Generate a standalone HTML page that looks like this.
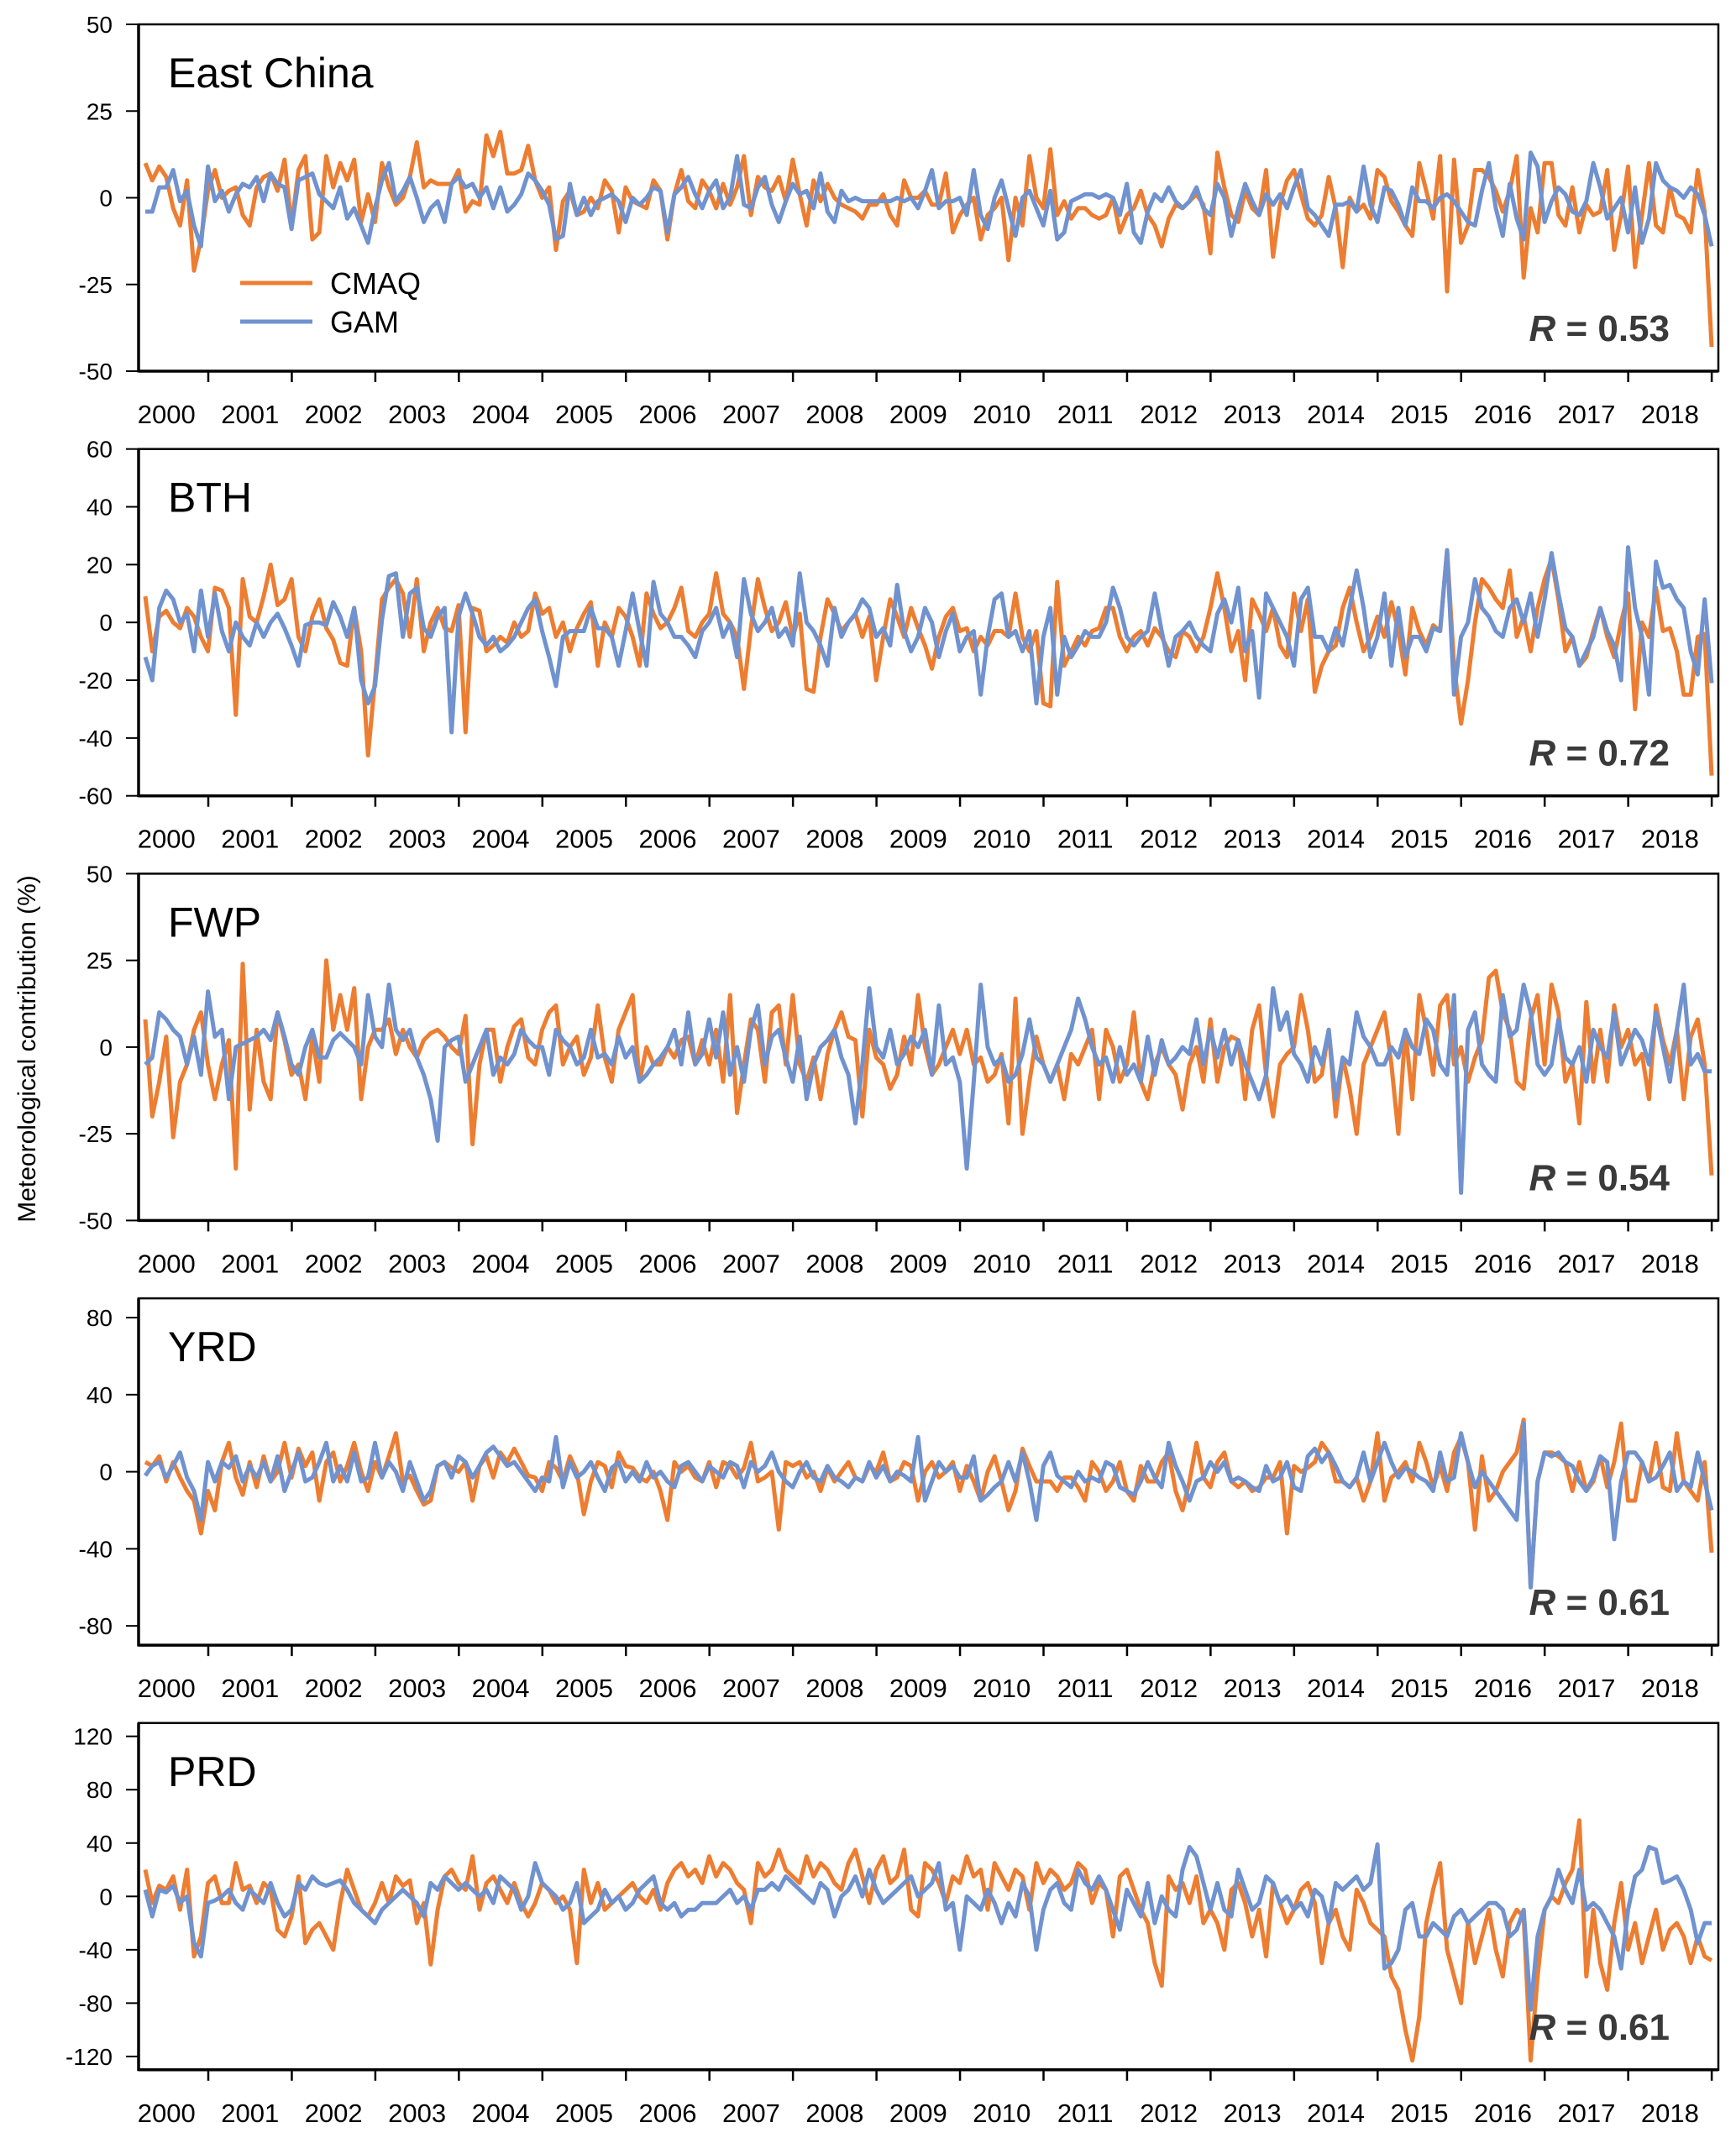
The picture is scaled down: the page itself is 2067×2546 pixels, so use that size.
<!DOCTYPE html>
<html><head><meta charset="utf-8"><style>
html,body{margin:0;padding:0;background:#fff;}
svg{display:block;font-family:"Liberation Sans",Arial,sans-serif;}
</style></head>
<body>
<svg id="chart" width="2067" height="2546" viewBox="0 0 2067 2546" xmlns="http://www.w3.org/2000/svg">
<text x="0" y="0" transform="translate(42,1249) rotate(-90)" text-anchor="middle" font-size="30" fill="#000">Meteorological contribution (%)</text>
</svg>
<script>
const years = ["2000","2001","2002","2003","2004","2005","2006","2007","2008","2009","2010","2011","2012","2013","2014","2015","2016","2017","2018"];
const panelNames = ["East China","BTH","FWP","YRD","PRD"];
const rValues = ["0.53","0.72","0.54","0.61","0.61"];
const yTicks0 = [50,25,0,-25,-50];
const yTicks1 = [60,40,20,0,-20,-40,-60];
const yTicks2 = [50,25,0,-25,-50];
const yTicks3 = [80,40,0,-40,-80];
const yTicks4 = [120,80,40,0,-40,-80,-120];
const yRanges = [[-50,50],[-60,60],[-50,50],[-90,90],[-130,130]];

const ecCMAQ = [10,5,9,6,-3,-8,5,-21,-12,2,
8,0,2,3,-5,-8,3,6,7,2,11,-8,
8,12,-12,-10,12,3,10,5,11,-7,1,-7,
10,3,-2,0,6,16,3,5,4,4,4,8,
-4,-1,-2,18,12,19,7,7,8,15,5,0,
3,-15,-1,2,-5,-4,0,-3,5,2,-10,3,
-1,-2,-3,5,2,-12,1,8,-1,-3,5,2,
-3,4,-2,3,12,-5,6,3,2,6,-1,11,
1,-8,5,-1,4,0,-2,-3,-4,-6,-2,-2,
1,-5,-8,5,0,0,2,-2,-2,7,-10,-5,
-2,0,-12,-5,-3,0,-18,0,-8,12,0,-3,
14,-5,-1,-6,-3,-3,-5,-6,-5,0,-10,-5,
-3,2,-5,-8,-14,-6,-2,-3,-1,1,-2,-16,
13,3,-5,-7,2,-3,-5,8,-17,-2,5,8,
1,-6,-8,-5,6,-3,-20,0,-4,-2,-6,8,
6,-1,-4,-8,-11,10,2,-6,12,-27,11,-13,
-8,8,8,6,2,-4,2,12,-23,-3,-10,10,
10,-5,-8,3,-10,-2,-5,-4,8,-15,-5,9,
-20,-5,10,-8,-10,3,-5,-6,-10,8,-4,-43];
const ecGAM = [-4,-4,3,3,8,-1,2,-8,-14,9,
-1,2,-4,1,4,3,6,-1,7,4,3,-9,
5,6,7,1,-1,-3,3,-6,-3,-8,-13,-3,
5,10,-1,2,6,0,-7,-3,-1,-7,4,6,
3,4,0,3,-3,3,-4,-2,1,7,5,2,
-2,-12,-11,4,-5,0,-5,-1,0,1,-1,-7,
0,-2,0,3,2,-10,1,3,6,1,-3,2,
5,-3,0,12,-2,-3,3,6,-2,-7,-1,4,
1,2,-3,7,-4,-7,2,-1,0,-1,-1,-1,
-1,-1,0,-1,0,-3,2,8,-3,-1,-1,0,
-5,8,-5,-9,0,5,-3,-11,0,2,-3,-8,
2,-12,-10,-1,0,1,1,0,1,0,-5,4,
-10,-13,-4,1,-1,3,-1,-3,-1,3,-3,-5,
4,0,-11,-3,4,-1,-5,1,-2,1,-3,3,
8,-3,-5,-8,-11,-2,-2,-1,-4,9,-2,-7,
3,2,-2,-8,3,-1,-1,-3,0,1,-1,-4,
-7,-8,2,10,-3,-11,4,-6,-12,13,9,-7,
-1,3,1,-4,-5,-1,10,3,-6,-3,0,-10,
3,-13,-6,10,5,3,2,0,3,1,-5,-14];
const bthCMAQ = [9,-10,2,4,0,-2,5,2,-5,-10,
12,11,5,-32,15,2,0,9,20,6,8,15,
-5,-10,2,8,-2,-6,-14,-15,5,-10,-46,-20,
8,12,15,10,-5,15,-10,0,5,-2,-3,6,
-38,5,4,-10,-8,-5,-7,0,-5,-3,10,3,
5,-5,0,-10,-2,3,7,-15,0,-5,5,2,
-5,-15,10,3,-2,0,5,12,-3,-5,0,3,
17,3,0,-5,-23,-2,15,5,-3,0,7,-5,
3,-23,-24,-5,8,3,-3,0,3,-5,2,-20,
-5,8,2,-5,5,-2,-8,-16,-5,2,5,-3,
-2,-10,-5,-8,-3,-3,-5,10,-5,-10,-3,-28,
-29,14,-15,-10,-5,-8,-3,-2,5,5,-5,-10,
-5,-3,-8,-2,-5,-10,-12,-3,-5,-10,-5,5,
17,5,-10,-3,-20,8,3,-3,5,-8,-12,10,
-3,8,-24,-15,-10,-8,5,12,0,-10,-5,2,
-5,7,-3,-18,5,-3,-8,-1,-3,25,-15,-35,
-20,0,15,12,8,5,18,-5,2,-10,5,15,
22,8,-10,-5,-15,-12,-3,5,-5,-12,0,10,
-30,0,-5,12,-3,-2,-10,-25,-25,-5,-4,-53];
const bthGAM = [-12,-20,5,11,8,0,3,-10,11,-5,
10,-3,-10,0,-5,-8,0,-5,0,3,-2,-8,
-15,-1,0,0,-1,7,2,-5,5,-20,-28,-22,
1,16,17,-5,10,12,-2,-5,2,5,-38,2,
10,3,-5,-8,-5,-10,-8,-5,0,5,8,-3,
-12,-22,-5,-3,-3,-3,5,-2,-2,-5,-15,-3,
10,-3,-15,14,3,0,-5,-5,-8,-12,-3,0,
5,-5,0,-12,15,3,-3,0,5,-5,-2,-8,
17,0,-3,-8,-15,5,-5,0,3,8,5,-5,
-2,-8,13,-3,-10,-5,5,0,-12,-3,3,-10,
-5,-3,-25,-5,8,10,-5,-3,-10,-3,-28,-5,
5,-25,-5,-12,-8,-3,-5,-5,0,12,5,-5,
-8,-5,-3,10,-3,-15,-5,-3,0,-5,-8,-10,
3,8,0,12,-10,-3,-26,10,5,0,-5,-15,
8,12,-5,-5,-10,-2,-8,5,18,5,-12,-5,
10,-15,5,-12,-5,-5,-10,-2,-3,25,-25,-5,
0,15,5,2,-3,-5,5,8,0,10,-5,8,
24,10,-2,-5,-15,-10,-5,5,-3,-8,-20,26,
5,-5,-25,21,12,13,8,5,-10,-18,8,-21];
const fwpCMAQ = [8,-20,-10,3,-26,-10,-5,5,10,-5,
-15,-5,2,-35,24,-18,5,-10,-15,10,2,-8,
-5,-15,3,-10,25,5,15,5,17,-15,0,5,
5,8,-2,5,0,-3,2,4,5,3,0,-2,
9,-28,-5,5,5,-10,0,6,8,-3,-5,5,
10,12,-5,0,3,-8,-3,12,-3,-10,5,10,
15,-10,0,-5,-5,0,-3,2,3,-5,2,-5,
5,-10,15,-19,-5,8,5,-10,10,12,-5,15,
-5,-10,-3,-15,-2,5,10,3,2,-20,5,-3,
-5,-12,-8,3,-5,15,0,-8,-5,0,5,-2,
5,-5,-3,-10,-8,-2,-22,14,-25,-10,3,-5,
-10,-5,-15,-2,-5,0,5,-15,5,0,-10,-5,
10,-10,-15,-5,0,-5,-8,-18,-5,0,-10,8,
-10,0,3,2,-15,5,12,-8,-20,-5,-2,0,
15,5,-10,-8,5,-20,-3,-12,-25,-5,0,5,
10,-5,-25,5,-15,15,5,-8,12,15,-5,0,
-10,-3,2,20,22,10,5,-10,-12,8,15,-5,
18,10,-10,-5,-22,13,-10,5,-10,12,0,5,
-5,-2,-15,12,2,-5,5,-15,3,8,-5,-37];
const fwpGAM = [-5,-3,10,8,5,3,-5,3,-8,16,
3,5,-15,0,1,2,3,5,2,10,3,-5,
-8,0,5,-3,-3,2,4,2,0,-5,15,3,
0,18,5,2,5,-3,-8,-15,-27,0,2,3,
-10,-5,0,5,-8,-3,-5,-2,5,2,0,0,
-8,5,2,0,-5,-3,5,-3,-2,-5,3,-3,
0,-10,-8,-5,-3,0,5,-5,10,-5,-2,8,
-3,10,-8,0,-10,5,12,-5,3,5,-3,-10,
3,-15,-5,0,2,5,-3,-8,-22,-5,17,0,
-3,5,-5,-2,3,0,5,-8,12,-5,-3,-10,
-35,-10,18,0,-5,-3,-10,-8,-2,8,-3,-5,
-10,-5,0,5,14,8,0,-5,-3,-10,0,-8,
-5,-10,3,-8,2,-5,-3,0,-2,8,-5,5,
-3,5,-5,2,-5,-10,-15,-8,17,5,10,-2,
-5,-10,0,-5,5,-15,-3,-5,10,3,0,-5,
-5,0,-3,5,0,-2,8,5,-5,-8,15,-42,
5,10,-5,-8,-10,15,3,5,18,10,-5,-8,
-5,8,-3,-5,0,-10,5,0,-3,10,-5,0,
5,2,-5,10,0,-10,5,18,-5,-2,-7,-7];
const yrdCMAQ = [5,3,8,-5,5,-3,-10,-15,-32,-10,
-20,5,15,-3,-12,5,-8,8,-5,0,15,-3,
12,3,10,-15,5,10,-5,3,15,0,-10,5,
-3,8,20,-5,-2,-10,-17,-15,3,5,2,0,
5,-15,3,8,-3,10,5,12,5,-2,-3,-10,
5,2,-5,8,0,-22,-5,5,3,-8,10,3,
2,-3,-5,0,-10,-25,5,0,3,-3,-5,5,
-8,5,3,-3,2,15,-5,-3,0,-30,5,3,
5,-3,0,-10,2,-5,0,5,-3,-5,3,0,
10,-5,-3,5,3,-15,0,5,-3,0,5,-10,
3,-5,-15,0,8,-5,-20,-10,12,3,-5,-5,
-5,-10,-3,-3,-8,-15,5,0,-10,-5,5,-10,
-15,3,-5,-5,5,10,-10,-20,-5,15,-3,-8,
5,10,-5,-8,-5,-10,-8,-3,-3,5,-32,3,
0,2,5,15,10,-5,-5,-8,-3,-15,-5,20,
-15,-3,0,5,-5,15,5,-8,3,-10,10,18,
5,-30,8,-15,-10,0,5,10,27,-60,-5,10,
10,8,5,-10,5,-10,-5,8,-8,5,25,-15,
-15,5,-5,15,-8,-10,20,-5,-10,-15,5,-42];
const yrdGAM = [-2,3,5,-3,3,10,-3,-10,-25,5,
-5,5,2,8,-5,3,-3,5,-5,8,-10,0,
10,-5,-3,5,15,-5,3,-5,10,-5,-3,15,
-3,5,0,-10,5,-5,-15,-10,3,5,-3,8,
5,-3,3,10,13,8,3,5,0,-5,-10,-3,
-5,18,-8,5,-3,0,5,-3,-10,2,5,-5,
0,-5,5,-3,0,-5,-8,3,5,0,-5,3,
0,-3,5,3,-8,5,0,3,10,0,-5,-8,
0,5,-3,-5,3,-3,-5,-8,-3,-5,5,-3,
3,-5,0,-2,-5,18,-15,-5,5,0,3,-3,
-3,8,-15,-12,-8,-5,5,-5,10,-5,-25,3,
10,-2,-5,-8,0,-5,-3,-5,5,3,-8,-10,
-12,-5,5,-3,-8,15,3,-5,-15,-5,-3,5,
0,5,-5,-3,-5,-8,-10,3,-5,-3,5,-8,
-10,8,12,5,10,3,-5,-8,-3,10,-5,5,
15,5,-3,2,0,-3,-5,-10,10,-5,-3,20,
5,-8,0,-5,-10,-15,-20,-25,25,-60,-5,10,
8,10,5,3,-5,-10,-3,8,5,-35,-5,10,
10,5,-5,-3,3,10,-10,-5,-8,10,-5,-20];
const prdCMAQ = [20,-5,8,5,15,-10,20,-45,-30,10,
15,-5,-5,25,5,8,-5,10,5,-25,-30,-15,
15,-35,-25,-20,-30,-40,-5,20,5,-10,-15,-5,
10,-5,15,8,12,-20,-5,-51,-10,15,20,10,
5,30,-10,10,15,5,-5,10,-5,-15,-5,10,
5,-5,0,-10,-50,20,-5,10,-10,-5,0,5,
10,0,-5,5,-10,10,20,25,15,20,10,30,
15,25,20,10,5,-20,25,15,20,35,20,15,
10,30,15,25,20,10,5,25,35,15,-5,20,
30,10,15,35,-10,-15,25,20,10,-5,15,10,
30,15,20,-10,25,15,5,20,15,-10,25,10,
20,15,5,10,25,20,-5,10,5,-30,15,20,
5,-10,-20,-50,-67,15,5,10,-5,15,-20,-10,
-20,-40,5,10,-5,-30,-10,-45,10,-5,-20,-10,
5,10,-5,-50,-20,-10,-30,-40,5,-5,-20,-25,
-30,-60,-70,-100,-123,-90,-20,5,25,-40,-60,-80,
-20,-50,-30,-10,-40,-60,-20,-10,-15,-123,-60,-10,
0,-5,10,20,57,-60,-10,-50,-70,-20,10,-40,
-20,-50,-30,-10,-40,-25,-20,-30,-50,-30,-45,-48];
const prdGAM = [5,-15,5,3,8,-5,0,-35,-45,-5,
-3,0,5,-5,-10,5,0,-5,10,-5,-15,-10,
10,5,15,10,8,10,12,5,-5,-10,-15,-20,
-10,-5,0,5,0,-5,-15,10,5,15,10,5,
10,5,0,5,-5,15,10,5,-10,0,25,10,
5,0,-10,-5,10,-20,-15,-10,5,-5,0,-10,
-5,5,10,15,-5,-10,-5,-15,-10,-10,-5,-5,
-5,0,5,-5,0,-10,5,5,10,5,15,10,
5,0,-5,10,5,-15,0,5,15,0,20,5,
-5,0,5,10,15,0,5,10,25,-10,-5,-40,
0,-5,-10,5,-5,-20,-5,-15,10,0,-40,-10,
5,10,-5,-10,20,10,5,15,5,-10,-25,5,
-5,-15,10,-20,0,-10,-15,20,37,30,10,-10,
10,-10,-15,20,5,-10,-5,15,10,-5,0,-10,
-5,-15,5,0,-20,10,5,10,15,5,10,39,
-54,-50,-40,-10,-5,-30,-30,-20,-25,-30,-15,-10,
-20,-15,-10,-5,-5,-10,-30,-25,-10,-85,-30,-10,
0,20,5,-5,20,-10,-5,-10,-20,-30,-54,-10,
15,20,37,35,10,12,15,5,-10,-35,-20,-20];

const cmaqSeries = [ecCMAQ,bthCMAQ,fwpCMAQ,yrdCMAQ,prdCMAQ];
const gamSeries = [ecGAM,bthGAM,fwpGAM,yrdGAM,prdGAM];
const tickSets = [yTicks0,yTicks1,yTicks2,yTicks3,yTicks4];

const NS = "http://www.w3.org/2000/svg";
const svg = document.getElementById("chart");
const L = 165, R = 2046, H = 413, PANEL_TOP0 = 29, PANEL_STEP = 505.7;
const X0 = 173, X1 = 2038, YEAR_TICK0 = 248, YEAR_W = 99.45;
const ORANGE = "#ED7D31", BLUE = "#7092CF";

function mk(tag, attrs, parent) {
  const e = document.createElementNS(NS, tag);
  for (const k in attrs) e.setAttribute(k, attrs[k]);
  (parent || svg).appendChild(e);
  return e;
}

for (let p = 0; p < 5; p++) {
  const top = PANEL_TOP0 + p * PANEL_STEP, bot = top + H;
  const [ymin, ymax] = yRanges[p];
  const yScale = v => bot - (v - ymin) / (ymax - ymin) * H;
  const n = cmaqSeries[p].length;
  const xScale = i => X0 + i * (X1 - X0) / (n - 1);

  const g = mk("g", {});
  
  

  tickSets[p].forEach(t => {
    const y = yScale(t);
    const tl = mk("line", {x1: L - 15, x2: L, y1: y, y2: y, stroke: "#000", "stroke-width": 2}, g);
    
    
    const tx = mk("text", {x: 134, y: y + 10, "text-anchor": "end", "font-size": 28, fill: "#000"}, g);
    
    
    tx.textContent = String(t);
  });

  years.forEach((yr, k) => {
    const x = YEAR_TICK0 + k * YEAR_W;
    const tl = mk("line", {x1: x, x2: x, y1: bot, y2: bot + 13, stroke: "#000", "stroke-width": 2.5}, g);
    
    
    const tx = mk("text", {x: x - YEAR_W / 2, y: bot + 62, "text-anchor": "middle", "font-size": 31, fill: "#000"}, g);
    
    
    tx.textContent = yr;
  });

  const mkLine = (arr, color, name) => {
    const d = arr.map((v, i) => (i ? "L" : "M") + xScale(i).toFixed(1) + "," + yScale(v).toFixed(1)).join("");
    const path = mk("path", {d: d, fill: "none", stroke: color, "stroke-width": 5, "stroke-linejoin": "round"}, g);
    
    
  };
  mkLine(cmaqSeries[p], ORANGE, 'cmaq-line');
  mkLine(gamSeries[p], BLUE, 'gam-line');

  const fr = mk("rect", {x: L, y: top, width: R - L, height: H, fill: "none", stroke: "#000", "stroke-width": 2.5}, g);
  
  
  const ls = mk("line", {x1: L, x2: L, y1: top, y2: bot + 1.5, stroke: "#000", "stroke-width": 3.5}, g);
  
  
  const bs = mk("line", {x1: L, x2: R, y1: bot, y2: bot, stroke: "#000", "stroke-width": 3.5}, g);
  
  

  const tt = mk("text", {x: 200, y: top + 75, "font-size": 50, fill: "#000"}, g);
  
  
  tt.textContent = panelNames[p];

  const rt = mk("text", {x: 1988, y: bot - 36, "text-anchor": "end", "font-size": 44, "font-weight": "bold", fill: "#3a3a3a"}, g);
  
  
  const ri = mk("tspan", {"font-style": "italic"}, rt);
  ri.textContent = "R";
  const rv = mk("tspan", {}, rt);
  rv.textContent = " = " + rValues[p];
}

const lg = mk("g", {});


[["CMAQ", ORANGE, 337], ["GAM", BLUE, 383]].forEach(([lab, col, y]) => {
  const ln = mk("line", {x1: 286, x2: 372, y1: y, y2: y, stroke: col, "stroke-width": 5}, lg);
  
  
  const t = mk("text", {x: 393, y: y + 13, "font-size": 36, fill: "#000"}, lg);
  
  
  t.textContent = lab;
});
</script>
</body></html>
